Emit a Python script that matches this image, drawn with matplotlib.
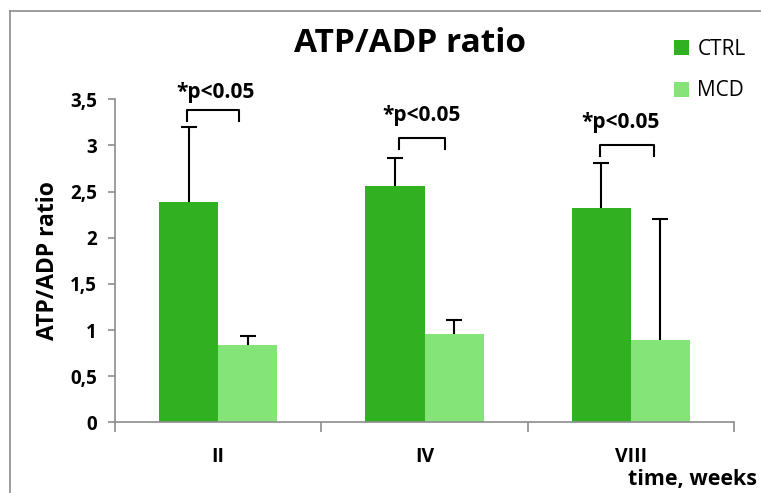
import matplotlib
matplotlib.use("Agg")
import matplotlib.pyplot as plt
from matplotlib.lines import Line2D
import numpy as np

# data
weeks = ["II", "IV", "VIII"]
ctrl = [2.39, 2.56, 2.32]
ctrl_err = [0.81, 0.30, 0.49]
mcd = [0.84, 0.96, 0.89]
mcd_err = [0.10, 0.15, 1.31]
sig_label = "*p<0.05"

CTRL_C = "#31b022"
MCD_C = "#84e478"
GRAY = "#8c8c8c"

plt.rcParams['font.family'] = ['Open Sans', 'DejaVu Sans']

fig = plt.figure(figsize=(7.61, 4.93), dpi=100)
ax = fig.add_axes([115 / 761, 70.7 / 493, 619 / 761, 323 / 493])

x = np.arange(len(weeks))
w = 0.287
ax.bar(x - w / 2, ctrl, w, color=CTRL_C, label="CTRL")
ax.bar(x + w / 2, mcd, w, color=MCD_C, label="MCD")
# upper error bars only, cap on top
for xs, vals, errs in [(x - w / 2, ctrl, ctrl_err), (x + w / 2, mcd, mcd_err)]:
    tops = np.array(vals) + np.array(errs)
    ax.vlines(xs, vals, tops, color="black", lw=1.5)
    ax.plot(xs, tops, ls="none", marker="_", markersize=12, mew=1.5,
            color="black")

# significance brackets
brackets = [(-0.15, 0.10, 3.27, 3.38, -0.015, 3.57),
            (-0.126, 0.10, 2.96, 3.08, -0.015, 3.32),
            (-0.15, 0.11, 2.89, 3.01, -0.05, 3.25)]
for i, (a, b, lo, hi, tx, ty) in enumerate(brackets):
    ax.plot([i + a, i + a, i + b, i + b], [lo, hi, hi, lo], color="black",
            lw=1.5, clip_on=False)
    ax.text(i + tx, ty, sig_label, ha="center", va="center", fontsize=15,
            fontweight="bold", clip_on=False)

ax.set_xlim(-0.5, 2.5)
ax.set_ylim(0, 3.5)
ax.set_yticks([0, 0.5, 1, 1.5, 2, 2.5, 3, 3.5])
ax.set_yticklabels(["0", "0,5", "1", "1,5", "2", "2,5", "3", "3,5"],
                   fontsize=13.5, fontweight="bold")
ax.set_xticks([-0.5, 0.5, 1.5, 2.5])
ax.set_xticklabels([])
ax.set_xticks(x, minor=True)
ax.set_xticklabels(weeks, minor=True, fontsize=14, fontweight="bold")
ax.tick_params(axis="x", which="major", length=7, color=GRAY, width=1.2)
ax.tick_params(axis="x", which="minor", length=0, pad=18)
ax.tick_params(axis="y", length=5, color=GRAY, width=1.2, pad=8)

for s in ["top", "right"]:
    ax.spines[s].set_visible(False)
for s in ["left", "bottom"]:
    ax.spines[s].set_color(GRAY)
    ax.spines[s].set_linewidth(1.2)

ax.set_ylabel("ATP/ADP ratio", fontsize=16.5, fontweight="bold", labelpad=7)
fig.text(410 / 761, 1 - 43 / 493, "ATP/ADP ratio", ha="center", va="center",
         fontsize=24, fontweight="bold")
fig.text(757 / 761, 1 - 479 / 493, "time, weeks", ha="right", va="center",
         fontsize=15.5, fontweight="bold")

leg = fig.legend(loc="upper left", bbox_to_anchor=(674 / 761, 1 - 39 / 493),
                 frameon=False, fontsize=15, handlelength=0.72,
                 handleheight=0.72, handletextpad=0.4, labelspacing=0.98,
                 borderpad=0, borderaxespad=0)

# outer chart frame (runs off the right and bottom edges)
fig.add_artist(Line2D([10 / 761, 10 / 761], [0, 1 - 11 / 493], color=GRAY,
                      lw=1.2, transform=fig.transFigure))
fig.add_artist(Line2D([10 / 761, 1], [1 - 11 / 493, 1 - 11 / 493], color=GRAY,
                      lw=1.2, transform=fig.transFigure))

fig.savefig("out.png", dpi=100)
